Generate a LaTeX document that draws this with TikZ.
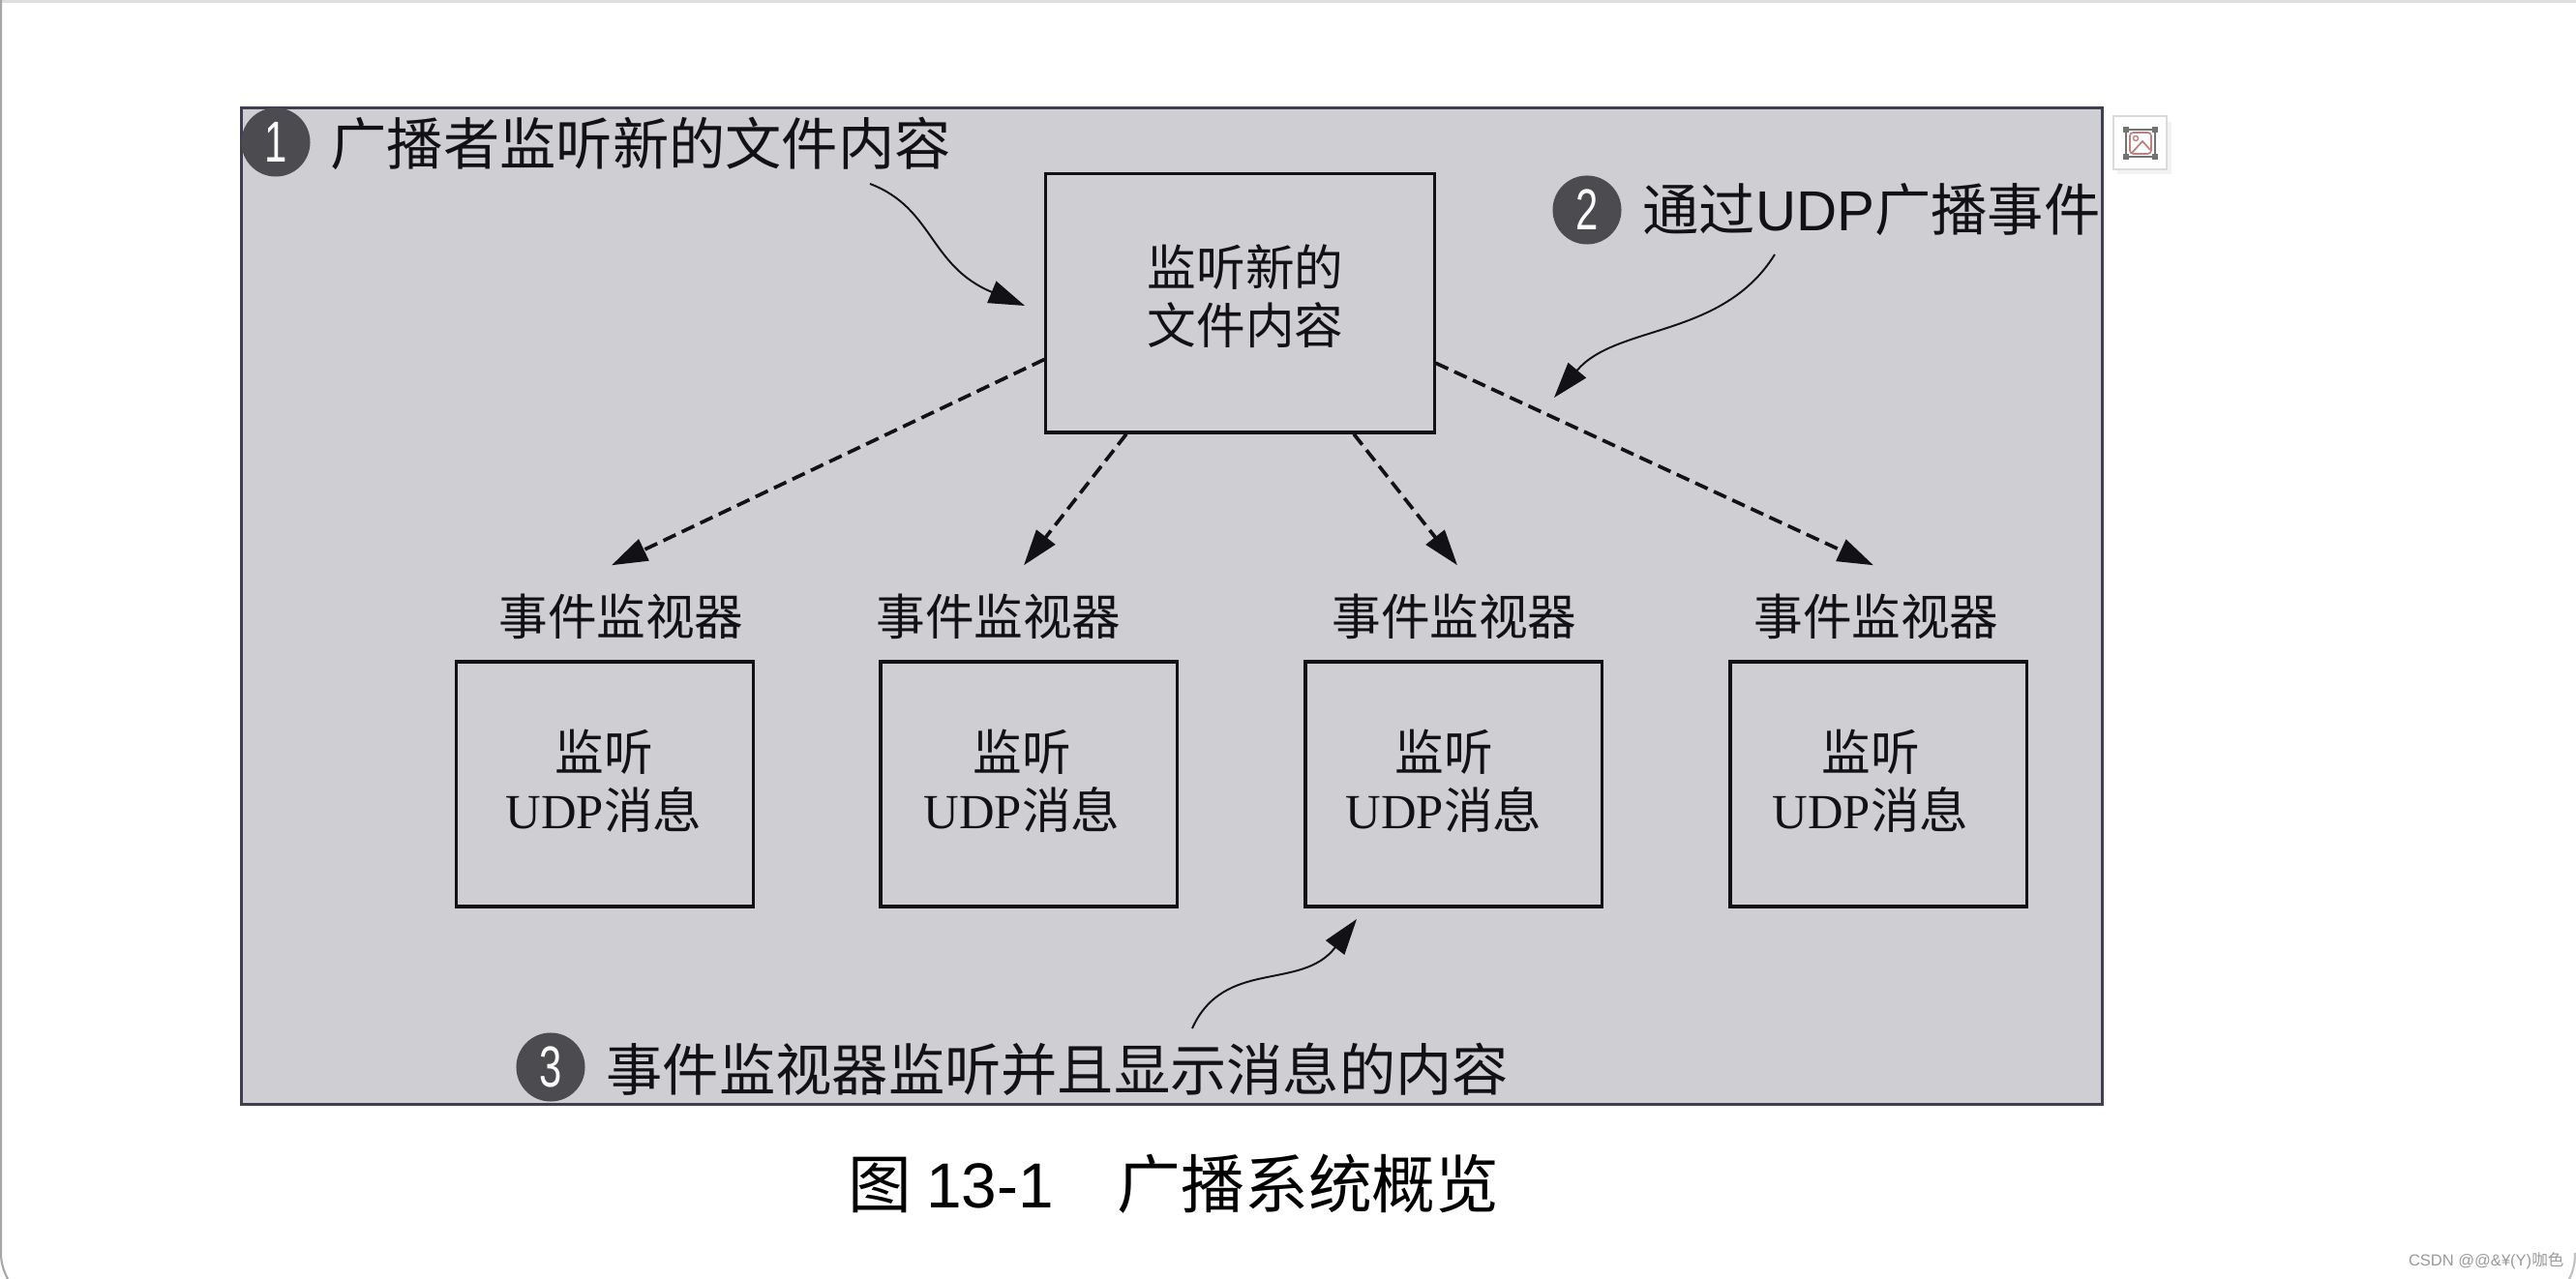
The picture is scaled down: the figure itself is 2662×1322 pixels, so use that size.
\documentclass[tikz,border=0pt]{standalone}
\usepackage{fontspec}
\usetikzlibrary{arrows.meta,calc}
\setmainfont{Liberation Serif}
\newfontfamily\cjk{Noto Sans CJK SC}
\newfontfamily\latinsans{Liberation Sans}
\newfontfamily\digitfont[FakeStretch=0.7]{Liberation Sans}
\definecolor{panelgray}{HTML}{CFCED3}
\definecolor{paneledge}{HTML}{3F3F52}
\definecolor{badgegray}{HTML}{4C4C50}
\definecolor{tipblack}{HTML}{111116}
\tikzset{
  mainbox/.style={draw=tipblack, line width=0.9pt, inner sep=0pt},
  boxtext/.style={inner sep=0pt, align=center, text=tipblack, font=\fontsize{14.4}{17}\selectfont},
  badge/.style={circle, fill=badgegray, text=white, inner sep=0pt, minimum size=0.71cm, font=\fontsize{17}{17}\digitfont},
  callout/.style={anchor=west, inner sep=0pt, text=tipblack, font=\fontsize{16.57}{20}\cjk},
  watcher/.style={inner sep=0pt, text=tipblack, font=\fontsize{14.4}{17}\cjk},
  eventarrow/.style={dash pattern=on 4pt off 2pt, line width=1.05pt, draw=tipblack, -{Triangle[length=0.37cm,width=0.24cm]}},
  notearrow/.style={line width=0.55pt, draw=tipblack, -{Triangle[length=0.37cm,width=0.24cm]}}
}
\begin{document}
\begin{tikzpicture}[x=0.01cm,y=-0.01cm]
    \useasboundingbox (0,0) rectangle (2662,1322);
    % window edge
    \draw[draw=black!13, line width=0.9pt] (0,1.5) -- (2662,1.5);
    \draw[draw=black!35, line width=0.6pt] (8,1322) .. controls (4,1314) and (1,1306) .. (1,1295) -- (1,0);
    \draw[draw=black!25, line width=0.6pt] (2661,1295) .. controls (2661,1306) and (2659,1314) .. (2655,1322);
    % panel
    \node (panel) at (1211,626.5) [draw=paneledge, fill=panelgray, line width=0.7pt, inner sep=0pt, minimum width=19.22cm, minimum height=10.29cm] {};
    % broadcaster
    \node (sender) at (1281.5,313.5) [mainbox, minimum width=4.01cm, minimum height=2.67cm] {};
    \node (sendertext) at (1287,306) [boxtext] {\cjk 监听新的\\\cjk 文件内容};
    % watchers
    \foreach \name/\cx/\lx/\tx in {one/625/642/624, two/1063/1032/1056, three/1502/1503/1492, four/1941/1939/1933} {
      \node (box\name) at (\cx,810.5) [mainbox, minimum width=3.06cm, minimum height=2.53cm] {};
      \node (text\name) at (\tx,807) [boxtext] {\cjk 监听\\UDP\cjk 消息};
      \node (label\name) at (\lx,637) [watcher, minimum height=0.5cm] {事件监视器};
    }
    \draw[eventarrow] (sender.196.6) -- ([xshift=-0.1cm,yshift=0.27cm]labelone.north);
    \draw[eventarrow] (sender.229.1) -- ([xshift=0.26cm,yshift=0.27cm]labeltwo.north);
    \draw[eventarrow] (sender.311.4) -- ([xshift=0.03cm,yshift=0.27cm]labelthree.north);
    \draw[eventarrow] (sender.343.7) -- ([xshift=-0.03cm,yshift=0.27cm]labelfour.north);
    % notes
    \node (badgeA) at (285,147) [badge] {1};
    \node (noteA) at (341,148) [callout] {广播者监听新的文件内容};
    \node (badgeB) at (1640,217) [badge] {2};
    \node (noteB) at (1697,217) [callout] {通过{\latinsans UDP}广播事件};
    \node (badgeC) at (569,1103) [badge] {3};
    \node (noteC) at (626,1105) [callout] {事件监视器监听并且显示消息的内容};
    \coordinate (startA) at (899,190);
    \coordinate (tipA) at (1059,316);
    \coordinate (startB) at (1834,263);
    \coordinate (tipB) at (1606,411);
    \coordinate (startC) at (1232,1063);
    \coordinate (tipC) at (1402,950);
    \draw[notearrow] (startA) .. controls (965,215) and (960,275) .. (tipA);
    \draw[notearrow] (startB) .. controls (1780,350) and (1670,335) .. (tipB);
    \draw[notearrow] (startC) .. controls (1265,990) and (1345,1025) .. (tipC);
    % caption
    \node (caption) at (876,1224) [anchor=west, inner sep=0pt, text=black, font=\fontsize{18.7}{22}\cjk] {图 {\latinsans 13-1}\hspace{0.66cm}广播系统概览};
    % image tool button
    \fill[black!5] (2188,126) rectangle (2244,180);
    \node (toolbtn) at (2211.5,147.5) [draw=black!14, fill=white, line width=0.8pt, inner sep=0pt, minimum width=0.55cm, minimum height=0.55cm] {};
    \draw[draw=black!55, line width=0.6pt] (2197,134) rectangle (2227,162);
    \foreach \px/\py in {2197/134, 2227/134, 2197/162, 2227/162} {
      \fill[black!55] (\px-3,\py-3) rectangle (\px+3,\py+3);
    }
    \draw[draw=red!50!black!50, line width=0.5pt, rounded corners=1pt] (2201,137) rectangle (2223,159);
    \draw[draw=red!50!black!50, line width=0.5pt] (2203,158) -- (2214,146) -- (2222,155);
    \draw[draw=red!50!black!50, line width=0.4pt] (2207,143) circle (2.5);
    % watermark
    \node (mark) at (2650,1303) [anchor=east, inner sep=0pt, text=black!40, font=\fontsize{4.7}{6}\latinsans] {CSDN @@\&¥(Y){\cjk 咖色}};
\end{tikzpicture}
\end{document}
